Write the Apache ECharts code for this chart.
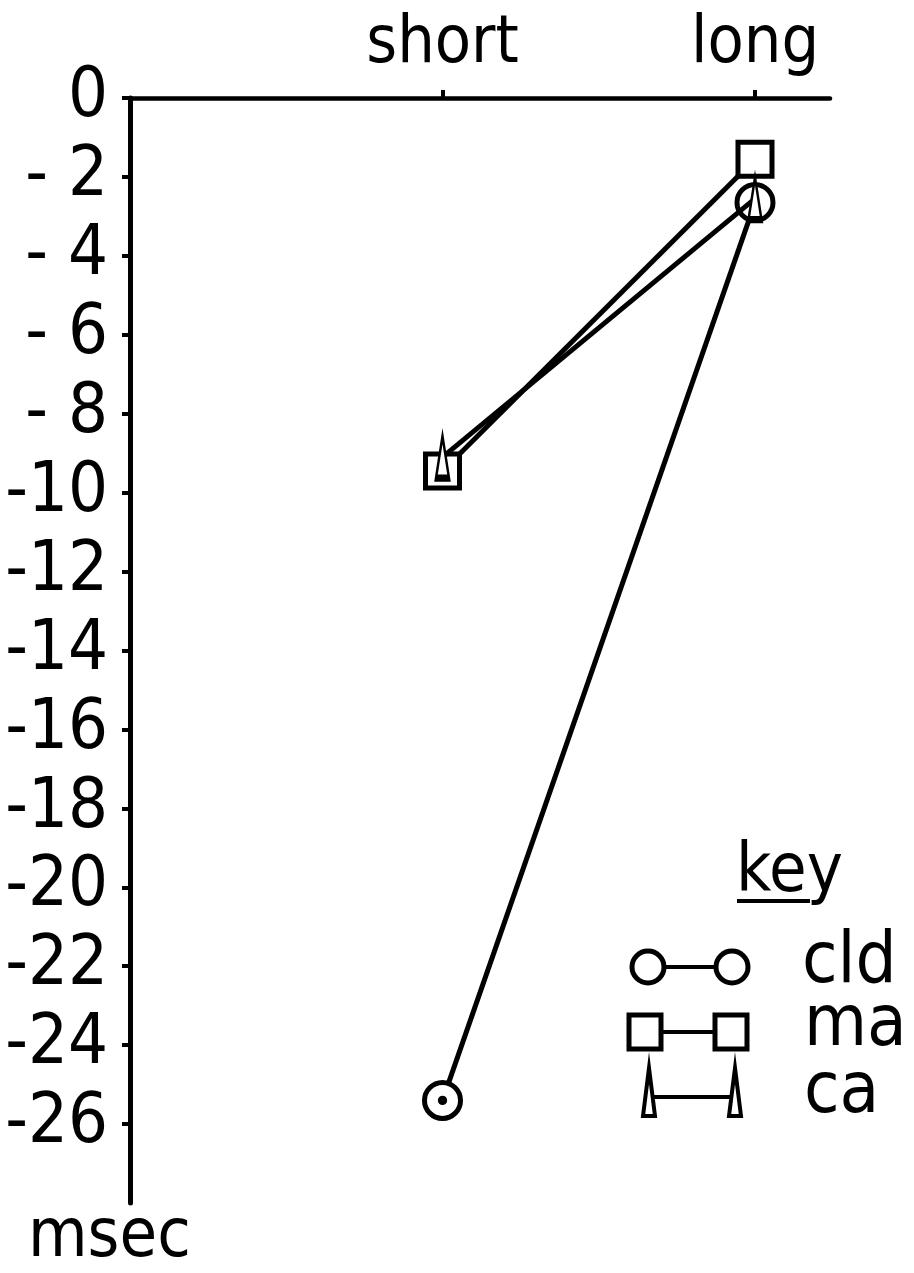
<!DOCTYPE html>
<html>
<head>
<meta charset="utf-8">
<script src="https://cdn.jsdelivr.net/npm/echarts@6/dist/echarts.min.js"></script>
<style>
  html, body { margin: 0; padding: 0; background: #fff; }
  #chart { width: 914px; height: 1273px; }
</style>
</head>
<body>
<div id="chart"></div>
<script>
// Interval conditions along the top axis
const categories = ['short', 'long'];
// Mean change in msec for each group
const cld = [-25.4, -2.65];
const ma = [-9.45, -1.55];
const ca = [-9.1, -2.55];
// Labelled ticks on the msec axis
const yTicks = [0, -2, -4, -6, -8, -10, -12, -14, -16, -18, -20, -22, -24, -26];

const font = '"DejaVu Sans Condensed", "DejaVu Sans", sans-serif';
const xPositions = categories.map((c, i) => i + 1);
const toPoints = arr => arr.map((v, i) => [xPositions[i], v]);

// tall narrow triangle used for the ca group
const triPath = 'path://M6,0 L12,50 L0,50 Z';
// ring with a centre dot
const dotRing = 'path://M50,0 A50,50 0 1,1 49.99,0 Z M50,44 A6,6 0 1,0 50.01,44 Z';

const lineStyle = { color: '#000', width: 5 };
const markStyle = { color: '#fff', borderColor: '#000', borderWidth: 5 };

const chart = echarts.init(document.getElementById('chart'));
chart.setOption({
  backgroundColor: '#fff',
  animation: false,
  grid: { left: 130, right: 84, top: 98, bottom: 70, containLabel: false, outerBoundsMode: 'none' },
  xAxis: {
    type: 'value',
    position: 'top',
    min: 0,
    max: 2.24,
    axisLine: { onZero: false, lineStyle: { color: '#000', width: 4.5 } },
    axisTick: { show: true, customValues: xPositions, length: 8, lineStyle: { color: '#000', width: 4 } },
    axisLabel: {
      customValues: xPositions,
      formatter: v => categories[Math.round(v) - 1] || '',
      color: '#000', fontSize: 66, fontFamily: font, margin: 20
    },
    splitLine: { show: false }
  },
  yAxis: {
    type: 'value',
    min: -28,
    max: 0,
    interval: 2,
    axisLine: { onZero: false, lineStyle: { color: '#000', width: 5 } },
    axisTick: { show: true, customValues: yTicks, length: 8, lineStyle: { color: '#000', width: 4 } },
    axisLabel: {
      customValues: yTicks,
      formatter: v => v === 0 ? '0' : (Math.abs(v) < 10 ? '- ' + Math.abs(v) : '-' + Math.abs(v)),
      color: '#000', fontSize: 70, fontFamily: font, margin: 22
    },
    splitLine: { show: false }
  },
  series: [
    {
      name: 'cld', type: 'line', z: 2,
      data: toPoints(cld).map((p, i) => i === 0 ? { value: p, symbol: dotRing } : { value: p }),
      symbol: 'circle', symbolSize: 36,
      lineStyle, itemStyle: markStyle
    },
    {
      name: 'ma', type: 'line', z: 3,
      data: toPoints(ma),
      symbol: 'rect', symbolSize: 34,
      lineStyle, itemStyle: markStyle
    },
    {
      name: 'ca', type: 'line', z: 4,
      data: toPoints(ca),
      symbol: triPath, symbolSize: [13, 42],
      lineStyle, itemStyle: { color: '#fff', borderColor: '#000', borderWidth: 4 }
    }
  ],
  graphic: [
    // axis unit
    { type: 'text', left: 28, top: 1204, style: { text: 'msec', font: '68px ' + font, fill: '#000' } },
    // key heading
    { type: 'text', x: 736, y: 873, style: { text: 'key', font: '68px ' + font, fill: '#000', verticalAlign: 'middle' } },
    { type: 'line', shape: { x1: 737, y1: 901, x2: 810, y2: 901 }, style: { stroke: '#000', lineWidth: 4 } },
    // cld entry
    { type: 'line', shape: { x1: 665, y1: 967, x2: 715, y2: 967 }, style: { stroke: '#000', lineWidth: 4 } },
    { type: 'circle', shape: { cx: 648, cy: 967, r: 16 }, style: { fill: '#fff', stroke: '#000', lineWidth: 5 } },
    { type: 'circle', shape: { cx: 732, cy: 967, r: 16 }, style: { fill: '#fff', stroke: '#000', lineWidth: 5 } },
    { type: 'text', x: 802, y: 963, style: { text: 'cld', font: '72px ' + font, fill: '#000', verticalAlign: 'middle' } },
    // ma entry
    { type: 'line', shape: { x1: 660, y1: 1032, x2: 715, y2: 1032 }, style: { stroke: '#000', lineWidth: 4 } },
    { type: 'rect', shape: { x: 629, y: 1015, width: 32, height: 34 }, style: { fill: '#fff', stroke: '#000', lineWidth: 5 } },
    { type: 'rect', shape: { x: 715, y: 1015, width: 32, height: 34 }, style: { fill: '#fff', stroke: '#000', lineWidth: 5 } },
    { type: 'text', x: 804, y: 1026, style: { text: 'ma', font: '72px ' + font, fill: '#000', verticalAlign: 'middle' } },
    // ca entry
    { type: 'line', shape: { x1: 653, y1: 1097, x2: 732, y2: 1097 }, style: { stroke: '#000', lineWidth: 4 } },
    { type: 'polygon', shape: { points: [[649, 1068], [655, 1116], [643, 1116]] }, style: { fill: '#fff', stroke: '#000', lineWidth: 4 } },
    { type: 'polygon', shape: { points: [[735, 1068], [741, 1116], [729, 1116]] }, style: { fill: '#fff', stroke: '#000', lineWidth: 4 } },
    { type: 'text', x: 804, y: 1093, style: { text: 'ca', font: '72px ' + font, fill: '#000', verticalAlign: 'middle' } }
  ]
});
</script>
</body>
</html>
